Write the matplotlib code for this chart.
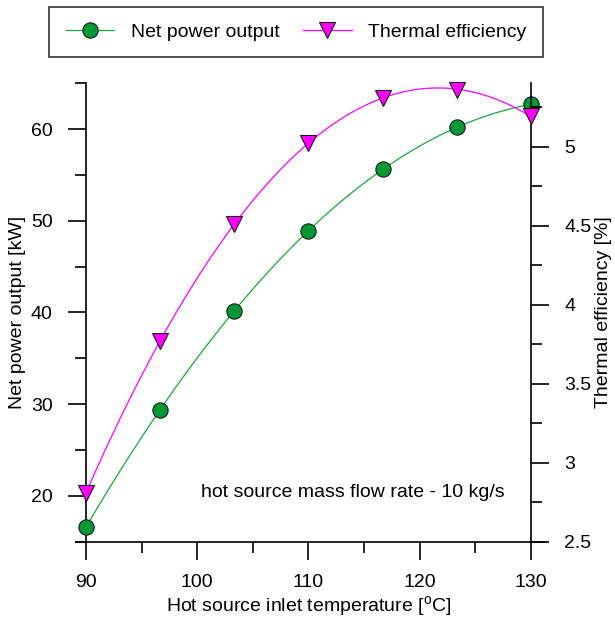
import numpy as np
import matplotlib.pyplot as plt
from matplotlib.ticker import MultipleLocator

plt.rcParams['font.family'] = ['Liberation Sans', 'DejaVu Sans']
plt.rcParams['font.size'] = 14

temps = [90, 96.67, 103.33, 110, 116.67, 123.33, 130]
net_power = [16.6, 29.4, 40.2, 48.9, 55.6, 60.2, 62.7]
efficiency = [2.81, 3.77, 4.51, 5.02, 5.31, 5.36, 5.19]

green = '#009933'
magenta = '#ff00ff'

fig = plt.figure(figsize=(6.15, 6.21), dpi=100)
ax = fig.add_axes([0.1398, 0.1277, 0.7236, 0.7382])
ax2 = ax.twinx()

# smooth fitted curves through the measured points
xs = np.linspace(90, 130, 200)
p_fit = np.polyval(np.polyfit(temps, net_power, 3), xs)
e_fit = np.polyval(np.polyfit(temps, efficiency, 3), xs)

ax.plot(xs, p_fit, color='#1aa640', lw=0.9, zorder=2)
ax2.plot(xs, e_fit, color=magenta, lw=0.9, zorder=2)
ax.plot(temps, net_power, 'o', color=green, mec='#1a1a1a', mew=0.8, ms=11,
        zorder=3, clip_on=False)
ax2.plot(temps, efficiency, 'v', color=magenta, mec='#1a1a1a', mew=0.8, ms=11.5,
         zorder=3, clip_on=False)

ax.set_xlim(90, 130)
ax.set_ylim(15, 65)
ax2.set_ylim(2.5, 5.4)

ax.xaxis.set_major_locator(MultipleLocator(10))
ax.xaxis.set_minor_locator(MultipleLocator(5))
ax.yaxis.set_major_locator(MultipleLocator(10))
ax.yaxis.set_minor_locator(MultipleLocator(5))
ax2.yaxis.set_major_locator(MultipleLocator(0.5))
ax2.yaxis.set_minor_locator(MultipleLocator(0.25))
ax2.yaxis.set_major_formatter(plt.FuncFormatter(lambda v, p: f'{v:g}'))

for a in (ax, ax2):
    a.spines['top'].set_visible(False)
    for s in a.spines.values():
        s.set_linewidth(1.2)
    a.tick_params(which='major', direction='out', length=13, width=1.2, pad=11)
    a.tick_params(which='minor', direction='out', length=8, width=1.2)
ax.tick_params(axis='x', which='major', pad=10)
ax2.spines['bottom'].set_visible(False)
ax2.spines['left'].set_visible(False)
ax.spines['right'].set_visible(False)
ax.spines['bottom'].set_bounds(89.1, 131.25)

ax.set_xlabel('Hot source inlet temperature [$\\mathregular{^{o}}$C]', va='center')
ax.set_ylabel('Net power output [kW]', va='center')
ax2.set_ylabel('Thermal efficiency [%]', va='center')
ax.xaxis.set_label_coords(0.5, -0.14)
ax.yaxis.set_label_coords(-0.153, 0.5)
ax2.yaxis.set_label_coords(1.162, 0.5)

ax.text(100.3, 20.4, 'hot source mass flow rate - 10 kg/s', fontsize=14,
        va='center', ha='left')

h1 = plt.Line2D([], [], color='#1aa640', lw=0.9, marker='o', mfc=green,
                mec='#1a1a1a', mew=0.8, ms=11)
h2 = plt.Line2D([], [], color=magenta, lw=0.9, marker='v', mfc=magenta,
                mec='#1a1a1a', mew=0.8, ms=11.5)
leg = fig.legend([h1, h2], ['Net power output', 'Thermal efficiency'], ncol=2,
                 loc='center', bbox_to_anchor=(0.4813, 0.9485), frameon=True,
                 fancybox=False, edgecolor='black', handlelength=2.5,
                 handletextpad=0.85, columnspacing=1.2, borderpad=0.85,
                 borderaxespad=0)
leg.get_frame().set_linewidth(1.2)

fig.savefig('out.png', dpi=100)
